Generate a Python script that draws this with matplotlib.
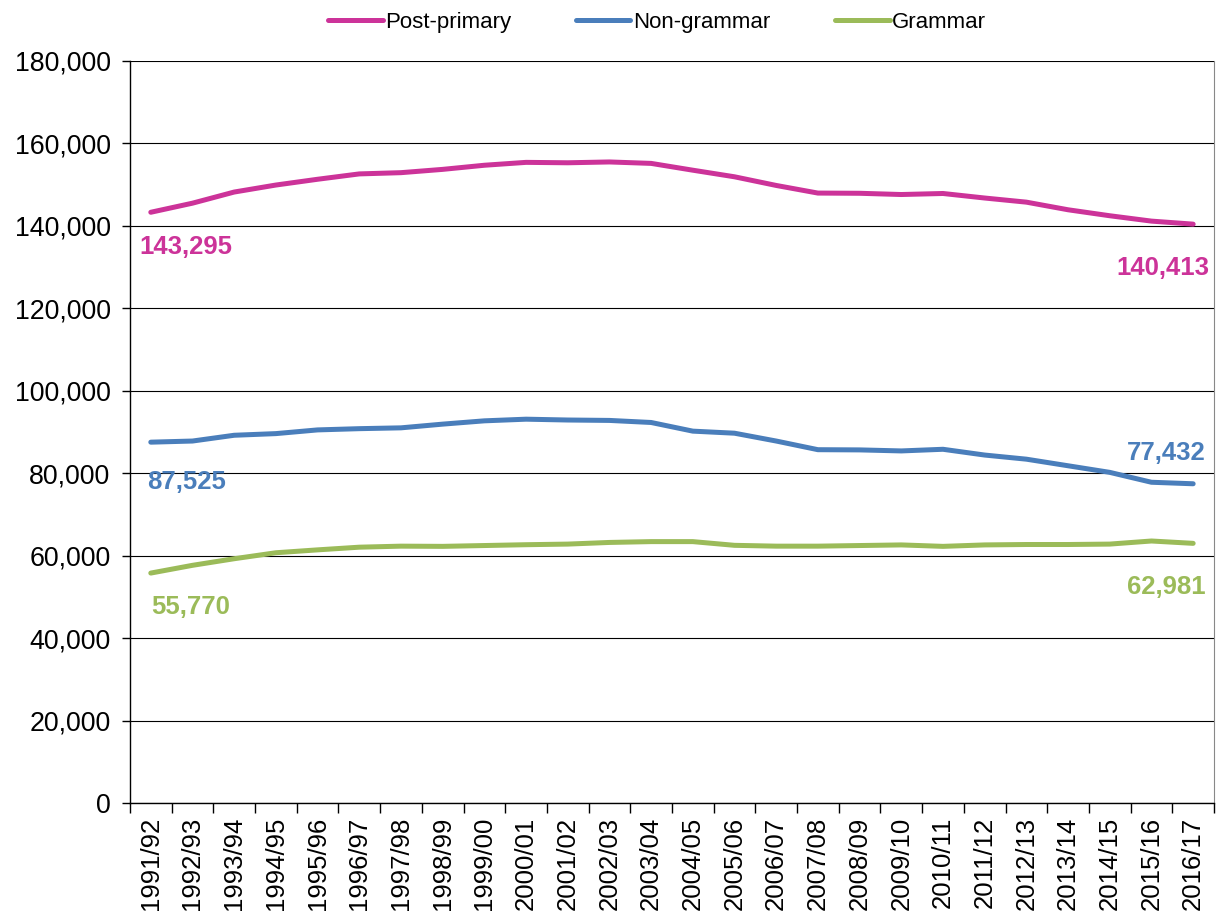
import matplotlib
matplotlib.use("Agg")
import matplotlib.pyplot as plt
from matplotlib.ticker import FuncFormatter, FixedLocator

plt.rcParams['font.family'] = ['Liberation Sans', 'DejaVu Sans']

years = ['1991/92', '1992/93', '1993/94', '1994/95', '1995/96', '1996/97', '1997/98',
         '1998/99', '1999/00', '2000/01', '2001/02', '2002/03', '2003/04', '2004/05',
         '2005/06', '2006/07', '2007/08', '2008/09', '2009/10', '2010/11', '2011/12',
         '2012/13', '2013/14', '2014/15', '2015/16', '2016/17']

post_primary = [143295, 145500, 148200, 149900, 151300, 152600, 152900, 153700, 154700,
                155400, 155300, 155500, 155150, 153500, 151900, 149800, 147950, 147900,
                147600, 147850, 146750, 145750, 143900, 142450, 141150, 140413]
non_grammar = [87525, 87800, 89200, 89600, 90500, 90800, 91000, 91900, 92700,
               93100, 92900, 92800, 92300, 90200, 89700, 87800, 85700, 85650,
               85400, 85800, 84400, 83400, 81800, 80200, 77800, 77432]
grammar = [55770, 57650, 59250, 60700, 61400, 62050, 62300, 62250, 62450,
           62650, 62800, 63200, 63400, 63400, 62500, 62300, 62300, 62450,
           62600, 62250, 62600, 62700, 62700, 62800, 63550, 62981]

c_pink = '#CC3399'
c_blue = '#4A7EBB'
c_green = '#9BBB59'

fig = plt.figure(figsize=(12.19, 9.18), dpi=100)
ax = fig.add_axes([0.1066, 0.1253, 0.8893, 0.8083])

x = list(range(len(years)))
ax.plot(x, post_primary, color=c_pink, lw=3.6, solid_capstyle='round', label='Post-primary')
ax.plot(x, non_grammar, color=c_blue, lw=3.6, solid_capstyle='round', label='Non-grammar')
ax.plot(x, grammar, color=c_green, lw=3.6, solid_capstyle='round', label='Grammar')

ax.set_xlim(-0.5, len(years) - 0.5)
ax.set_ylim(0, 180000)
ax.set_yticks(range(0, 180001, 20000))
ax.yaxis.set_major_formatter(FuncFormatter(lambda v, p: f'{int(v):,}'))
ax.grid(axis='y', color='black', lw=0.8)
ax.set_axisbelow(True)

# category boundaries carry the tick marks, labels sit in the middle
ax.xaxis.set_major_locator(FixedLocator([i - 0.5 for i in range(len(years) + 1)]))
ax.xaxis.set_minor_locator(FixedLocator(x))
ax.set_xticklabels([], minor=False)
ax.set_xticklabels(years, minor=True, rotation=90, fontsize=18.5)
ax.tick_params(axis='x', which='major', length=7, width=1, direction='out')
ax.tick_params(axis='x', which='minor', length=0, pad=10)
ax.tick_params(axis='y', length=6, width=1, pad=8, labelsize=19.3)

ax.spines['top'].set_visible(False)
ax.spines['right'].set_color('#888888')
ax.spines['left'].set_color('black')
ax.spines['bottom'].set_color('black')
ax.spines['left'].set_linewidth(1)
ax.spines['bottom'].set_linewidth(1)

lab = dict(fontsize=18.5, fontweight='bold', va='center')
ax.text(-0.27, post_primary[0] - 8400, f'{post_primary[0]:,}', color=c_pink, ha='left', **lab)
ax.text(25.38, post_primary[-1] - 10600, f'{post_primary[-1]:,}', color=c_pink, ha='right', **lab)
ax.text(-0.08, non_grammar[0] - 9650, f'{non_grammar[0]:,}', color=c_blue, ha='left', **lab)
ax.text(25.31, non_grammar[-1] + 7350, f'{non_grammar[-1]:,}', color=c_blue, ha='right', **lab)
ax.text(0.0, grammar[0] - 8250, f'{grammar[0]:,}', color=c_green, ha='left', **lab)
ax.text(25.31, grammar[-1] - 10600, f'{grammar[-1]:,}', color=c_green, ha='right', **lab)

fig.legend(loc='center', bbox_to_anchor=(0.539, 0.976), ncol=3, frameon=False,
           fontsize=16, handlelength=2.46, handletextpad=0.12, columnspacing=2.9)

fig.savefig('out.png', dpi=100)
